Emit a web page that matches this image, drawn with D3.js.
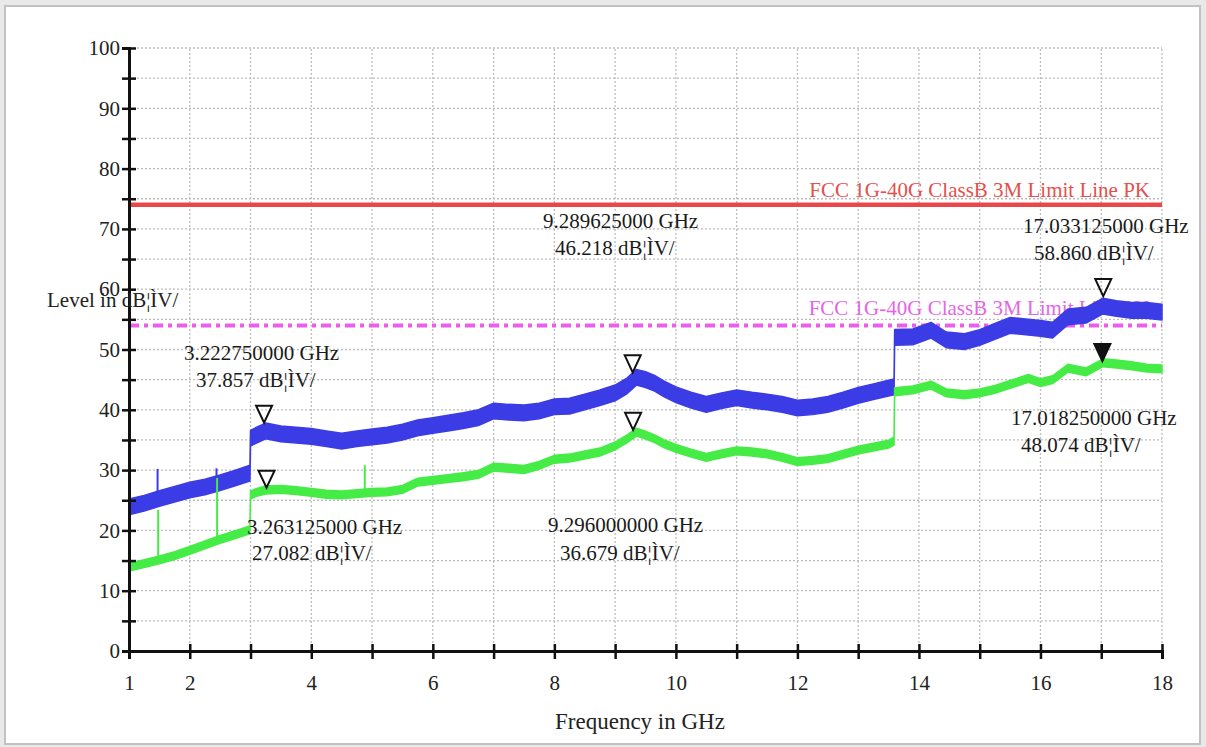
<!DOCTYPE html>
<html>
<head>
<meta charset="utf-8">
<script src="https://cdn.jsdelivr.net/npm/d3@7/dist/d3.min.js"></script>
<style>
    body { margin: 0; background: #e9e9e9; }
    svg text { font-family: "Liberation Serif", "Times New Roman", serif; }
</style>
</head>
<body>
<svg id="chart" width="1206" height="747"></svg>
<script>
// trace values (GHz / dBuV)
var freqGHz = [1.0, 1.25, 1.5, 1.75, 2.0, 2.25, 2.5, 2.75, 2.99, 3.0,
    3.1, 3.25, 3.5, 3.75, 4.0, 4.25, 4.5, 4.75, 5.0, 5.25,
    5.5, 5.75, 6.0, 6.25, 6.5, 6.75, 7.0, 7.25, 7.5, 7.75,
    8.0, 8.25, 8.5, 8.75, 9.0, 9.2, 9.35, 9.5, 9.65, 9.8,
    10.0, 10.25, 10.5, 10.75, 11.0, 11.25, 11.5, 11.75, 12.0, 12.25,
    12.5, 12.75, 13.0, 13.25, 13.5, 13.59, 13.6, 13.9, 14.2, 14.45,
    14.75, 15.0, 15.25, 15.5, 15.8, 16.0, 16.2, 16.45, 16.75, 17.03,
    17.25, 17.5, 17.75, 18.0];

var peakLevel = [23.9, 24.5, 25.3, 26.0, 26.7, 27.2, 27.9, 28.7, 29.5, 35.3,
    35.8, 36.5, 36.0, 35.8, 35.6, 35.2, 34.8, 35.2, 35.5, 35.8,
    36.3, 37.0, 37.4, 37.8, 38.2, 38.7, 39.8, 39.6, 39.5, 39.8,
    40.5, 40.6, 41.3, 42.0, 42.8, 44.0, 45.4, 45.0, 44.4, 43.5,
    42.5, 41.6, 40.9, 41.5, 42.0, 41.6, 41.3, 40.9, 40.3, 40.5,
    40.9, 41.6, 42.4, 43.0, 43.6, 43.8, 52.0, 52.1, 53.2, 51.6,
    51.3, 52.0, 53.0, 54.0, 53.7, 53.5, 53.2, 55.4, 55.7, 57.2,
    56.8, 56.5, 56.5, 56.2];

var avgLevel = [13.9, 14.5, 15.1, 15.8, 16.7, 17.6, 18.5, 19.3, 20.1, 25.9,
    26.3, 26.7, 26.8, 26.6, 26.3, 26.0, 25.9, 26.1, 26.3, 26.4,
    26.8, 28.0, 28.3, 28.6, 28.9, 29.3, 30.5, 30.3, 30.1, 30.8,
    31.8, 32.0, 32.5, 33.0, 34.0, 35.2, 36.3, 35.8, 35.2, 34.4,
    33.6, 32.8, 32.1, 32.7, 33.2, 33.0, 32.7, 32.1, 31.4, 31.6,
    31.9, 32.6, 33.3, 33.8, 34.3, 34.8, 43.0, 43.3, 44.1, 42.8,
    42.5, 42.8, 43.4, 44.2, 45.2, 44.5, 45.0, 46.9, 46.3, 47.8,
    47.6, 47.3, 46.9, 46.8];

// single spikes standing out of the traces
var peakSpikeFreq = [1.47, 2.44];
var peakSpikeTop = [30.2, 30.3];
var avgSpikeFreq = [1.48, 2.45, 4.88];
var avgSpikeTop = [23.4, 28.7, 30.8];

var limitLevel = [74, 54];
var limitNames = ["FCC 1G-40G ClassB 3M Limit Line PK", "FCC 1G-40G ClassB 3M Limit Line AV"];

var markerFreq = [3.22275, 3.263125, 9.289625, 9.296, 17.033125, 17.01825];
var markerLevel = [37.857, 27.082, 46.218, 36.679, 58.860, 48.074];
var markerFilled = [false, false, false, false, false, true];

var xTicks = [1, 2, 3, 4, 5, 6, 7, 8, 9, 10, 11, 12, 13, 14, 15, 16, 17, 18];
var xTickLabels = [1, 2, 4, 6, 8, 10, 12, 14, 16, 18];
var yTicks = [0, 5, 10, 15, 20, 25, 30, 35, 40, 45, 50, 55, 60, 65, 70, 75, 80, 85, 90, 95, 100];
var yTickLabels = [0, 10, 20, 30, 40, 50, 60, 70, 80, 90, 100];

var unitText = " dB\u00A6\u00CCV/";

// layout
var plotLeft = 129, plotRight = 1162, plotTop = 48, plotBottom = 651;
// where each marker's two text lines start [x1, y1, x2, y2] (pixels)
var markerLabelPos = [
    [184, 353, 196, 380],
    [247, 527, 252, 553],
    [543, 221, 555, 248],
    [548, 525, 560, 553],
    [1023, 226, 1034, 253],
    [1011, 418, 1021, 445]
];

var svg = d3.select("#chart");

svg.append("rect").attr("x", 5).attr("y", 6).attr("width", 1195).attr("height", 738)
    .attr("fill", "white").attr("stroke", "#c2c2c2").attr("stroke-width", 2);

var x = d3.scaleLinear().domain([1, 18]).range([plotLeft, plotRight]);
var y = d3.scaleLinear().domain([0, 100]).range([plotBottom, plotTop]);

// dotted grid
var grid = svg.append("g").attr("stroke", "#bdbdbd").attr("stroke-width", 1.3)
    .attr("stroke-dasharray", "2,2");
grid.selectAll("line.v").data(xTicks.slice(1)).enter().append("line")
    .attr("x1", function (d) { return x(d); }).attr("x2", function (d) { return x(d); })
    .attr("y1", y(0)).attr("y2", y(100));
grid.selectAll("line.h").data(yTicks.slice(1)).enter().append("line")
    .attr("x1", x(1)).attr("x2", x(18))
    .attr("y1", function (d) { return y(d); }).attr("y2", function (d) { return y(d); });

// limit line captions sit under the traces
svg.append("text").attr("x", 1150).attr("y", 197).attr("text-anchor", "end")
    .attr("font-size", 21).attr("fill", "#e4504c").text(limitNames[0]);
svg.append("text").attr("x", 1149).attr("y", 315).attr("text-anchor", "end")
    .attr("font-size", 21).attr("fill", "#e466e4").text(limitNames[1]);

svg.append("line").attr("x1", x(1)).attr("x2", x(18))
    .attr("y1", y(limitLevel[0])).attr("y2", y(limitLevel[0]))
    .attr("stroke", "#e8484a").attr("stroke-width", 4.5);
svg.append("line").attr("x1", x(1)).attr("x2", x(18))
    .attr("y1", y(limitLevel[1])).attr("y2", y(limitLevel[1]))
    .attr("stroke", "#ee5cee").attr("stroke-width", 4)
    .attr("stroke-dasharray", "10,5,4,5");

function drawTrace(levels, halfWidth, color, spikeFreq, spikeTop) {
    var pts = freqGHz.map(function (f, i) { return [f, levels[i]]; });
    var band = d3.area()
        .x(function (d) { return x(d[0]); })
        .y0(function (d) { return y(d[1] - halfWidth); })
        .y1(function (d) { return y(d[1] + halfWidth); });
    svg.append("path").datum(pts).attr("d", band)
        .attr("fill", color).attr("stroke", color).attr("stroke-width", 1.5)
        .attr("stroke-linejoin", "round");
    var bis = d3.bisector(function (d) { return d; }).left;
    for (var i = 0; i < spikeFreq.length; i++) {
        var k = bis(freqGHz, spikeFreq[i]);
        var base = levels[k - 1] + (levels[k] - levels[k - 1]) * (spikeFreq[i] - freqGHz[k - 1]) / (freqGHz[k] - freqGHz[k - 1]);
        svg.append("line").attr("x1", x(spikeFreq[i])).attr("x2", x(spikeFreq[i]))
            .attr("y1", y(base)).attr("y2", y(spikeTop[i]))
            .attr("stroke", color).attr("stroke-width", 2);
    }
}

drawTrace(peakLevel, 1.3, "#3c3ce6", peakSpikeFreq, peakSpikeTop);
drawTrace(avgLevel, 0.65, "#46ec46", avgSpikeFreq, avgSpikeTop);

// axes
var yAxis = svg.append("g").attr("transform", "translate(" + plotLeft + ",0)")
    .call(d3.axisLeft(y).tickValues(yTicks).tickSize(7).tickPadding(2)
        .tickFormat(function (d) { return yTickLabels.indexOf(d) > -1 ? d : ""; }));
var xAxis = svg.append("g").attr("transform", "translate(0," + plotBottom + ")")
    .call(d3.axisBottom(x).tickValues(xTicks).tickSize(8).tickPadding(16)
        .tickFormat(function (d) { return xTickLabels.indexOf(d) > -1 ? d : ""; }));

[yAxis, xAxis].forEach(function (ax) {
    ax.select(".domain").attr("stroke", "#111").attr("stroke-width", 3);
    ax.selectAll(".tick line").attr("stroke", "#111").attr("stroke-width", 2.5);
    ax.selectAll(".tick text").attr("font-family", "Liberation Serif").attr("font-size", 21).attr("fill", "#222");
});
yAxis.selectAll(".tick line").attr("x1", 7);
xAxis.selectAll(".tick line").attr("y1", -7);

svg.append("text").attr("x", 640).attr("y", 729).attr("text-anchor", "middle")
    .attr("font-size", 23).attr("fill", "#222").text("Frequency in GHz");
svg.append("text").attr("x", 47).attr("y", 307)
    .attr("font-size", 21).attr("fill", "#222").text("Level in" + unitText);

// markers
markerFreq.forEach(function (f, i) {
    var mx = x(f), my = y(markerLevel[i]);
    svg.append("path")
        .attr("d", "M" + (mx - 8) + "," + (my - 17) + "L" + (mx + 8) + "," + (my - 17) + "L" + mx + "," + my + "Z")
        .attr("fill", markerFilled[i] ? "#111" : "none")
        .attr("stroke", "#111").attr("stroke-width", 2);
    var p = markerLabelPos[i];
    svg.append("text").attr("x", p[0]).attr("y", p[1] + 7)
        .attr("font-size", 21).attr("fill", "#1a1a1a").text(f.toFixed(9) + " GHz");
    svg.append("text").attr("x", p[2]).attr("y", p[3] + 7)
        .attr("font-size", 21).attr("fill", "#1a1a1a").text(markerLevel[i].toFixed(3) + unitText);
});
</script>
</body>
</html>
